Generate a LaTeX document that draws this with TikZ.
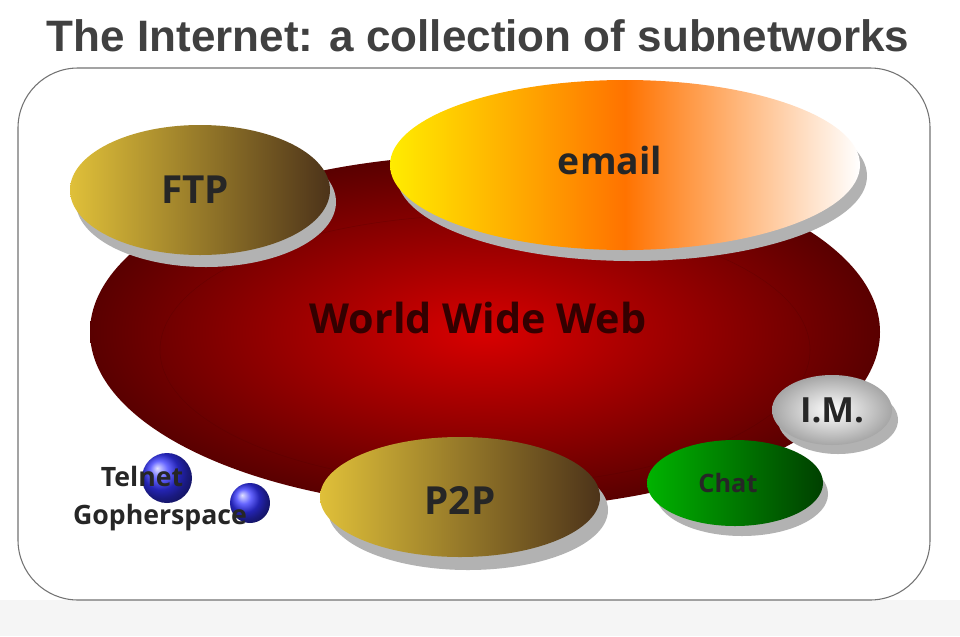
\documentclass[tikz,border=0pt]{standalone}
\usepackage{fontspec}
\setmainfont{Liberation Sans}
\newfontfamily\labfont{Open Sans}
\usetikzlibrary{shadings}

\tikzset{
  dropshade/.style={fill=black!30},
  lab/.style={font=\labfont\bfseries, text=black!85},
}

\begin{document}
\begin{tikzpicture}[x=0.75pt,y=0.75pt,yscale=-1,xscale=1]
\useasboundingbox (0,0) rectangle (960,636);
\fill[white] (0,0) rectangle (960,636);
\fill[black!4] (0,600) rectangle (960,636);

% frame
\draw[black!55, line width=0.8, rounded corners=45, fill=white] (18,68) rectangle (930,600);

% title
\node[font=\fontsize{33}{38}\selectfont\bfseries, text=black!75] (title) at (478,36) {The Internet: a collection of subnetworks};

% World Wide Web
\shade[inner color=red!85!black, outer color=red!35!black] (485,332) ellipse [x radius=395, y radius=177];
\draw[red!30!black, opacity=0.3] (485,350) ellipse [x radius=325, y radius=135];
\node[lab, font=\labfont\bfseries\fontsize{31}{34}\selectfont, text=black!80!red] (www) at (478,318) {World Wide Web};

% email
\fill[dropshade] (632,176) ellipse [x radius=235, y radius=85];
\shade[left color=yellow!85!orange, right color=white, middle color=orange!90!red] (625,165) ellipse [x radius=235, y radius=85];
\node[lab, font=\labfont\bfseries\fontsize{28}{32}\selectfont] (email) at (610,160) {email};

% FTP
\fill[dropshade] (206,202) ellipse [x radius=130, y radius=65];
\shade[left color=yellow!45!brown!90, right color=brown!40!black] (200,190) ellipse [x radius=130, y radius=65];
\node[lab, font=\labfont\bfseries\fontsize{29}{32}\selectfont] (ftp) at (195,190) {FTP};

% P2P
\fill[dropshade] (468,510) ellipse [x radius=140, y radius=60];
\shade[left color=yellow!45!brown!90, right color=brown!40!black] (460,497) ellipse [x radius=140, y radius=60];
\node[lab, font=\labfont\bfseries\fontsize{29}{32}\selectfont] (p2p) at (460,500) {P2P};

% Chat
\fill[dropshade] (742,494) ellipse [x radius=86, y radius=42];
\shade[left color=green!70!black, middle color=yellow!70!green, right color=green!25!black] (735,483) ellipse [x radius=88, y radius=43];
\node[lab, font=\labfont\bfseries\fontsize{19}{22}\selectfont] (chat) at (728,483) {Chat};

% I.M.
\fill[dropshade] (838,420) ellipse [x radius=60, y radius=34];
\shade[inner color=white, outer color=black!35] (832,410) ellipse [x radius=60, y radius=35];
\node[lab, font=\labfont\bfseries\fontsize{26}{30}\selectfont] (im) at (832,410) {I.M.};

% telnet, gopherspace
\shade[ball color=blue!80] (167,478) circle [radius=25];
\shade[ball color=blue!80] (250,503) circle [radius=20];
\node[lab, font=\labfont\bfseries\fontsize{20}{23}\selectfont] (telnet) at (142,476) {Telnet};
\node[lab, font=\labfont\bfseries\fontsize{20}{23}\selectfont] (gopher) at (160,518) {Gopherspace};

\end{tikzpicture}
\end{document}
